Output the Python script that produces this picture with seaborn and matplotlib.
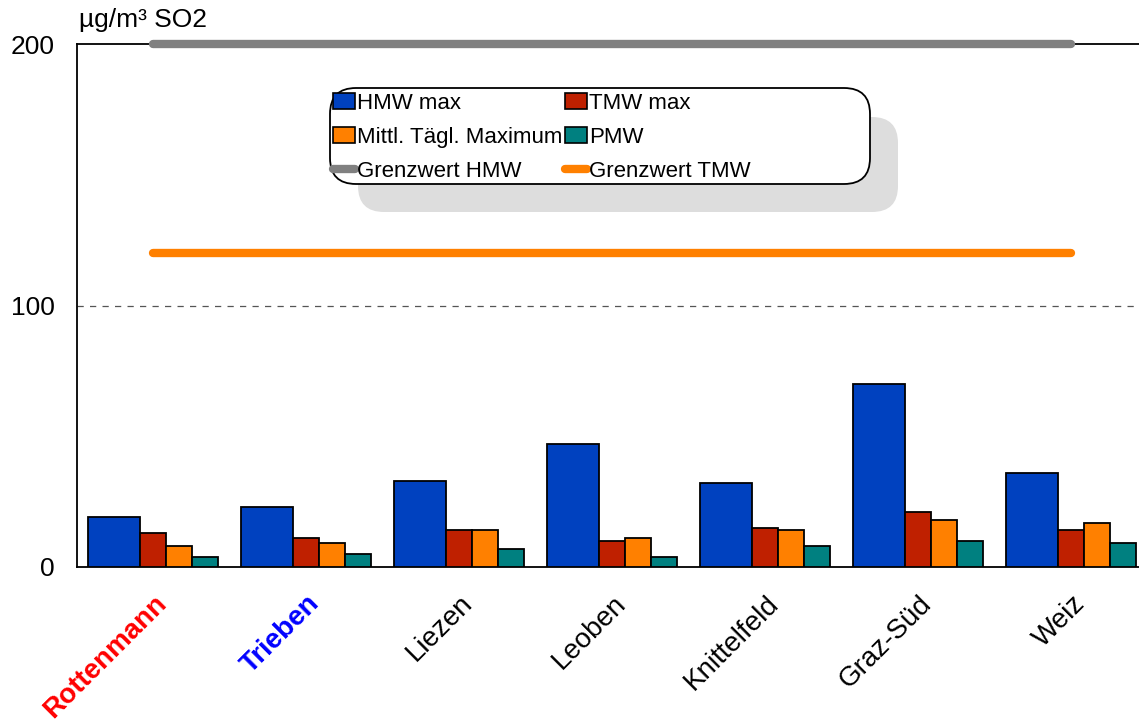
import numpy as np
import pandas as pd
import matplotlib
matplotlib.use("Agg")
import matplotlib.pyplot as plt
import matplotlib.transforms as mtransforms
from matplotlib.patches import FancyBboxPatch, Patch
from matplotlib.lines import Line2D
import seaborn as sns

# ---------------- data ----------------
stations = ["Rottenmann", "Trieben", "Liezen", "Leoben", "Knittelfeld", "Graz-Süd", "Weiz"]
hmw_max = [19, 23, 33, 47, 32, 70, 36]
tmw_max = [13, 11, 14, 10, 15, 21, 14]
mittl_taegl_max = [8, 9, 14, 11, 14, 18, 17]
pmw = [4, 5, 7, 4, 8, 10, 9]
grenzwert_hmw = 200
grenzwert_tmw = 120
series_labels = ["HMW max", "TMW max", "Mittl. Tägl. Maximum", "PMW"]
limit_labels = ["Grenzwert HMW", "Grenzwert TMW"]
y_ticks = [0, 100, 200]
y_unit = "µg/m³ SO2"

# ---------------- style ----------------
sns.set_theme(style="white")
plt.rcParams["font.family"] = ["Liberation Sans", "DejaVu Sans"]
plt.rcParams["text.color"] = "black"
plt.rcParams["xtick.color"] = "black"
plt.rcParams["ytick.color"] = "black"
plt.rcParams["axes.labelcolor"] = "black"

colors = {"HMW max": "#0041BF", "TMW max": "#BF2000",
          "Mittl. Tägl. Maximum": "#FF8000", "PMW": "#008080"}
offsets = {"HMW max": -0.255, "TMW max": 0.0, "Mittl. Tägl. Maximum": 0.17, "PMW": 0.34}
widths = {"HMW max": 0.34, "TMW max": 0.17, "Mittl. Tägl. Maximum": 0.17, "PMW": 0.17}

W, H = 1139, 722
fig = plt.figure(figsize=(W / 100, H / 100), dpi=100)
ax = fig.add_axes([77 / W, 1 - 567 / H, (W - 77) / W, (567 - 44) / H])

pos = np.arange(len(stations))
values = dict(zip(series_labels, [hmw_max, tmw_max, mittl_taegl_max, pmw]))
for lab in series_labels:
    df = pd.DataFrame({"x": pos + offsets[lab], "y": values[lab]})
    sns.barplot(data=df, x="x", y="y", native_scale=True, width=widths[lab],
                color=colors[lab], saturation=1, edgecolor="black", linewidth=1.3,
                errorbar=None, ax=ax, zorder=3)

# limit lines spanning first to last station
line_x = [pos[0], pos[-1]]
sns.lineplot(x=line_x, y=[grenzwert_hmw] * 2, color="#808080", linewidth=6,
             solid_capstyle="round", ax=ax, zorder=4, clip_on=False)
sns.lineplot(x=line_x, y=[grenzwert_tmw] * 2, color="#FF8000", linewidth=6,
             solid_capstyle="round", ax=ax, zorder=4)

ax.set_xlim(-0.495, 6.446)
ax.set_ylim(0, 200)
ax.set_yticks(y_ticks)
ax.set_yticklabels([str(v) for v in y_ticks], fontsize=19, color="black")
ax.tick_params(axis="y", length=0, pad=16)
ax.axhline(100, color="#555555", linewidth=0.9, linestyle=(0, (5, 5)), zorder=1)

ax.set_xticks(pos)
ax.set_xticklabels(stations, fontsize=20, rotation=45, ha="right", rotation_mode="anchor",
                   color="black")
ax.tick_params(axis="x", length=0, pad=4)
offset = mtransforms.ScaledTranslation(1 / 100, -18 / 100, fig.dpi_scale_trans)
for i, t in enumerate(ax.get_xticklabels()):
    t.set_transform(t.get_transform() + offset)
    if i == 0:
        t.set_color("#FF0000"); t.set_fontweight("bold")
    elif i == 1:
        t.set_color("#0000FF"); t.set_fontweight("bold")
ax.set_xlabel(""); ax.set_ylabel("")

for s in ["left", "bottom", "top"]:
    ax.spines[s].set_visible(True)
    ax.spines[s].set_color("black")
    ax.spines[s].set_linewidth(1.3)
ax.spines["right"].set_visible(False)

fig.text(79 / W, 1 - 20 / H, y_unit, fontsize=19, ha="left", va="center", color="black")

# legend box with shadow
ident = mtransforms.IdentityTransform()
shadow = FancyBboxPatch((358, H - 212), 540, 95, boxstyle="round,pad=0,rounding_size=26",
                        transform=ident, facecolor="#DDDDDD", edgecolor="none",
                        clip_on=False, zorder=6)
box = FancyBboxPatch((330, H - 184), 540, 96, boxstyle="round,pad=0,rounding_size=26",
                     transform=ident, facecolor="white", edgecolor="black", linewidth=1.3,
                     clip_on=False, zorder=6.5)
ax.add_patch(shadow)
ax.add_patch(box)

handles = [Patch(facecolor=colors[l], edgecolor="black", linewidth=1.2, label=l) for l in series_labels]
h_hmw = Line2D([], [], color="#808080", linewidth=6, solid_capstyle="round", label=limit_labels[0])
h_tmw = Line2D([], [], color="#FF8000", linewidth=6, solid_capstyle="round", label=limit_labels[1])
order = [handles[0], handles[2], h_hmw, handles[1], handles[3], h_tmw]
leg = ax.legend(handles=order, ncol=2, frameon=False, fontsize=16,
                handlelength=1.0, handleheight=0.7, handletextpad=0.1, columnspacing=0.1,
                labelspacing=0.58, borderpad=0, borderaxespad=0,
                loc="upper left", bbox_to_anchor=(333 / W, 1 - 93 / H),
                bbox_transform=fig.transFigure)
for txt in leg.get_texts():
    txt.set_color("black")
leg.set_zorder(7)

fig.savefig("out.png", dpi=100)
